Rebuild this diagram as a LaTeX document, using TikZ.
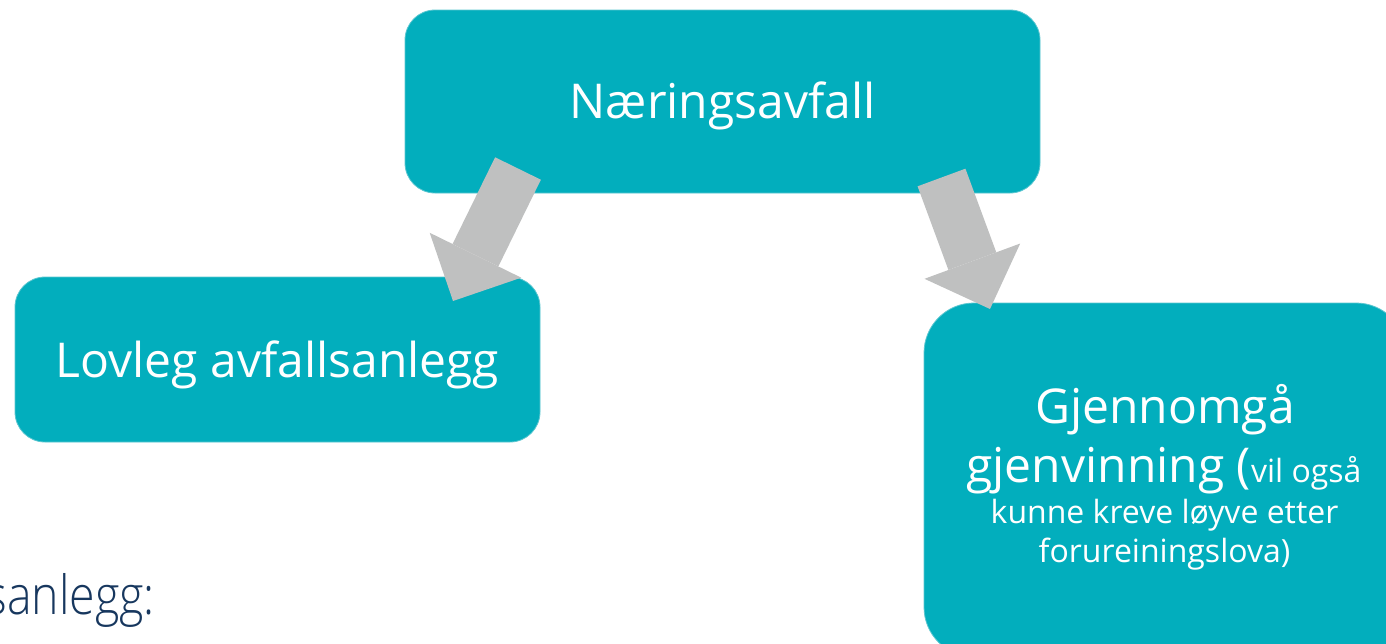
\documentclass[tikz,border=0pt]{standalone}
\usepackage{fontspec}
\setmainfont{Open Sans}
\newfontfamily\bodyfont{Open Sans Light}[FakeStretch=0.86]
\usetikzlibrary{arrows.meta}
\definecolor{boxteal}{HTML}{02AEBD}
\definecolor{boxedge}{HTML}{5CC6D0}
\definecolor{arrowgray}{HTML}{BFC0C0}
\definecolor{navy}{HTML}{17375E}
\begin{document}
\begin{tikzpicture}[x=1pt,y=-1pt,
  tealbox/.style={fill=boxteal, draw=boxedge, line width=0.8pt, inner sep=0pt},
  bigtext/.style={text=white, font=\fontsize{48}{58}\selectfont, anchor=base, inner sep=0pt},
  smalltext/.style={text=white, font=\fontsize{32}{38}\selectfont, anchor=base, inner sep=0pt},
  blockarrow/.style={draw=arrowgray, line width=51pt, -{Triangle[length=51pt,width=102pt,line width=0pt]}}]
\useasboundingbox (0,0) rectangle (1386,643);
% boxes
\node[tealbox, rounded corners=30pt, minimum width=635pt, minimum height=183pt] (top) at (722.5,101.5) {};
\node[tealbox, rounded corners=30pt, minimum width=525pt, minimum height=165pt] (left) at (277.5,359.5) {};
\node[tealbox, rounded corners=50pt, minimum width=482pt, minimum height=354pt] (right) at (1165,480) {};
% texts
\node[bigtext] (ttop) at (722.5,118) {Næringsavfall};
\node[bigtext] (tleft) at (277.5,377) {Lovleg avfallsanlegg};
\node[bigtext] (tr1) at (1165,423) {Gjennomgå};
\node[bigtext] (tr2) at (1164,482) {gjenvinning (\fontsize{32}{38}\selectfont vil også};
\node[smalltext] (tr3) at (1164.5,523) {kunne kreve løyve etter};
\node[smalltext] (tr4) at (1164.5,562) {forureiningslova)};
\node[text=navy, font=\bodyfont\fontsize{54}{64}\selectfont, anchor=base east, inner sep=0pt] (tbottom) at (155,614) {sanlegg:};
% arrows
\coordinate (la) at (518,168.5);
\coordinate (lb) at (453,301);
\coordinate (ra) at (941.5,177.5);
\coordinate (rb) at (990,309);
\draw[blockarrow] (la) -- (lb);
\draw[blockarrow] (ra) -- (rb);
\end{tikzpicture}
\end{document}
